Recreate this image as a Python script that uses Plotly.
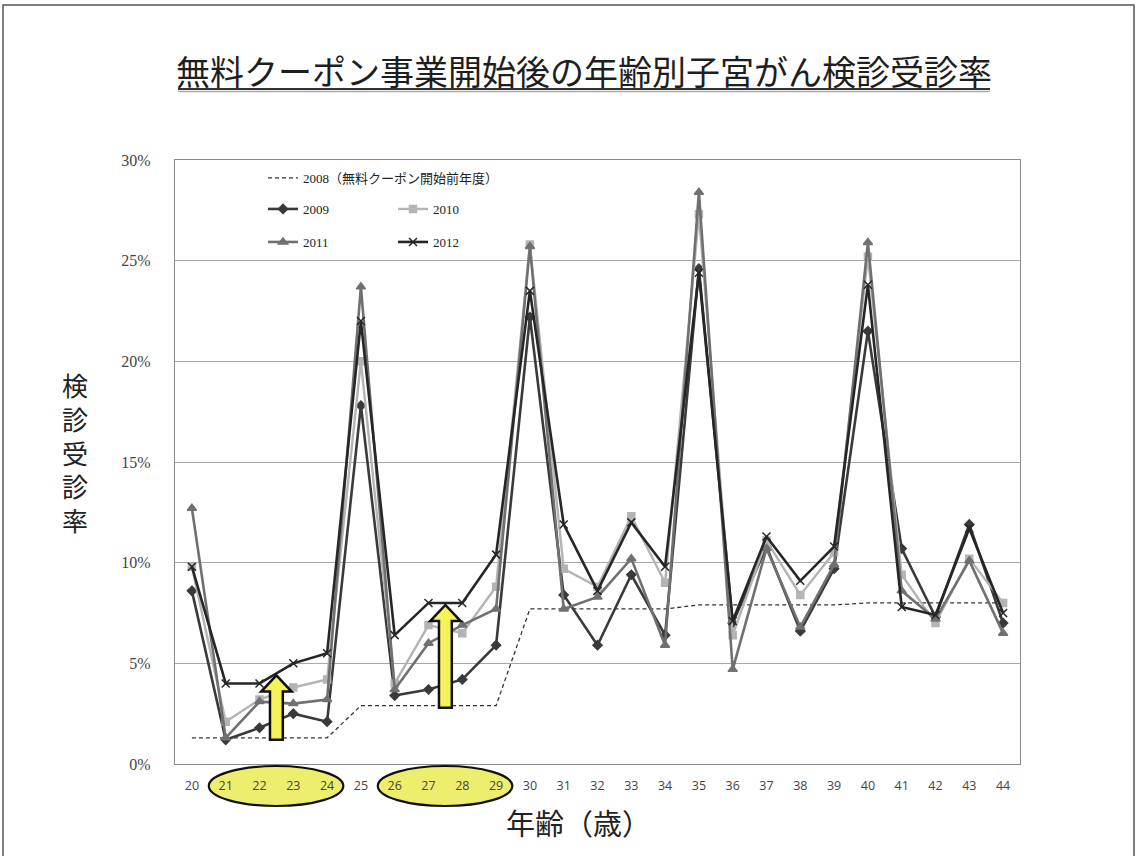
import plotly.graph_objects as go

# ---------------- data ----------------
ages = list(range(20, 45))
age_labels = [str(a) for a in ages]

rate_2008 = [1.3, 1.3, 1.3, 1.3, 1.3,
             2.9, 2.9, 2.9, 2.9, 2.9,
             7.7, 7.7, 7.7, 7.7, 7.7,
             7.9, 7.9, 7.9, 7.9, 7.9,
             8.0, 8.0, 8.0, 8.0, 8.0]
rate_2009 = [8.6, 1.2, 1.8, 2.5, 2.1, 17.8, 3.4, 3.7, 4.2, 5.9, 22.2, 8.4, 5.9,
             9.4, 6.4, 24.6, 7.0, 10.8, 6.6, 9.7, 21.5, 10.7, 7.3, 11.9, 7.0]
rate_2010 = [9.8, 2.1, 3.2, 3.8, 4.2, 20.0, 4.0, 6.9, 6.5, 8.8, 25.8, 9.7, 8.8,
             12.3, 9.0, 27.3, 6.4, 11.1, 8.4, 10.5, 25.2, 9.4, 7.0, 10.2, 8.0]
rate_2011 = [12.7, 1.3, 3.1, 3.0, 3.2, 23.7, 3.7, 6.0, 6.9, 7.7, 25.7, 7.7, 8.3,
             10.2, 5.9, 28.4, 4.7, 10.7, 6.8, 9.9, 25.9, 8.6, 7.2, 10.1, 6.5]
rate_2012 = [9.8, 4.0, 4.0, 5.0, 5.5, 22.0, 6.4, 8.0, 8.0, 10.4, 23.5, 11.9, 8.6,
             12.0, 9.8, 24.4, 7.1, 11.3, 9.1, 10.8, 23.8, 7.8, 7.4, 11.7, 7.5]

y_ticks = [0, 5, 10, 15, 20, 25, 30]
y_tick_labels = [f"{v}%" for v in y_ticks]
highlight_groups = [[21, 22, 23, 24], [26, 27, 28, 29]]

title_text = "無料クーポン事業開始後の年齢別子宮がん検診受診率"
ytitle_text = "検診受診率"
xtitle_text = "年齢（歳）"

# ---------------- layout geometry ----------------
W, H = 1137, 856
L, R, T, B = 175, 117, 160, 92
PW, PH = W - L - R, H - T - B


def px_x(px):
    return (px - L) / PW


def px_y(py):
    return (H - B - py) / PH


fig = go.Figure()

serif = "Liberation Serif, Noto Sans CJK JP"
cjk = "Noto Sans CJK JP"

# 2008 dashed
fig.add_trace(go.Scatter(
    x=ages, y=rate_2008, mode="lines", name="2008（無料クーポン開始前年度）",
    line=dict(color="#333333", width=1.3, dash="4px,3px"),
    legend="legend"))

series = [
    ("2009", rate_2009, "#3a3a3a", "diamond", 7, 2.6, "legend2"),
    ("2010", rate_2010, "#b4b4b4", "square", 7, 2.4, "legend3"),
    ("2011", rate_2011, "#707070", "triangle-up", 8, 2.6, "legend4"),
    ("2012", rate_2012, "#262626", "x-thin", 8, 2.6, "legend5"),
]
for name, vals, col, sym, ms, lw, lg in series:
    fig.add_trace(go.Scatter(
        x=ages, y=vals, mode="lines+markers", name=name,
        line=dict(color=col, width=lw),
        marker=dict(symbol=sym, size=ms, color=col,
                    line=dict(color=col, width=1.5)),
        legend=lg))

shapes = []
# outer frame
shapes.append(dict(type="rect", xref="paper", yref="paper",
                   x0=px_x(3), x1=px_x(1134), y0=px_y(900), y1=px_y(5),
                   line=dict(color="#555555", width=1.5), layer="below"))
# title underline
shapes.append(dict(type="line", xref="paper", yref="paper",
                   x0=px_x(178), x1=px_x(990), y0=px_y(89), y1=px_y(89),
                   line=dict(color="#333333", width=2)))
shapes.append(dict(type="line", xref="paper", yref="paper",
                   x0=px_x(178), x1=px_x(990), y0=px_y(91.5), y1=px_y(91.5),
                   line=dict(color="#aaaaaa", width=1.5)))

# yellow ellipses around highlighted tick labels
for grp in highlight_groups:
    shapes.append(dict(type="circle", xref="x", yref="paper",
                       x0=grp[0] - 0.5, x1=grp[-1] + 0.48,
                       y0=px_y(806), y1=px_y(766),
                       fillcolor="#eeee6e", line=dict(color="#111111", width=2.2),
                       layer="below"))

# yellow arrows: from 2008 level to 2012 level, between the middle ages of each group
arrow_half_shaft = 0.19
arrow_half_head = 0.45
head_h = 0.8
for grp in highlight_groups:
    i0 = ages.index(grp[1])
    i1 = ages.index(grp[2])
    xc = (grp[1] + grp[2]) / 2
    base = rate_2008[i0] - 0.1
    tip = (rate_2012[i0] + rate_2012[i1]) / 2 - 0.1
    hb = tip - head_h
    path = (f"M {xc - arrow_half_shaft} {base} L {xc - arrow_half_shaft} {hb} "
            f"L {xc - arrow_half_head} {hb} L {xc} {tip} L {xc + arrow_half_head} {hb} "
            f"L {xc + arrow_half_shaft} {hb} L {xc + arrow_half_shaft} {base} Z")
    shapes.append(dict(type="path", xref="x", yref="y", path=path,
                       fillcolor="#f4f45a", line=dict(color="#111111", width=2.5),
                       layer="above"))

annotations = [
    dict(text=title_text, xref="paper", yref="paper", x=px_x(584), y=px_y(70),
         showarrow=False, xanchor="center", yanchor="middle",
         font=dict(family=cjk, size=34, color="#1e1e1e")),
    dict(text=xtitle_text, xref="paper", yref="paper", x=px_x(578), y=px_y(822),
         showarrow=False, xanchor="center", yanchor="middle",
         font=dict(family=cjk, size=29, color="#222222")),
    dict(text="<br>".join(list(ytitle_text)), xref="paper", yref="paper",
         x=px_x(75), y=px_y(452), showarrow=False, xanchor="center", yanchor="middle",
         font=dict(family=cjk, size=26, color="#222222")),
]

leg_common = dict(bgcolor="rgba(0,0,0,0)", borderwidth=0,
                  font=dict(family=serif, size=13, color="#222222"),
                  xanchor="left", yanchor="middle", orientation="v")

fig.update_layout(
    width=W, height=H,
    margin=dict(l=L, r=R, t=T, b=B),
    paper_bgcolor="white", plot_bgcolor="white",
    showlegend=True,
    legend=dict(x=px_x(263), y=px_y(178), **leg_common),
    legend2=dict(x=px_x(263), y=px_y(209), **leg_common),
    legend3=dict(x=px_x(393), y=px_y(209), **leg_common),
    legend4=dict(x=px_x(263), y=px_y(242), **leg_common),
    legend5=dict(x=px_x(393), y=px_y(242), **leg_common),
    xaxis=dict(
        tickmode="array", tickvals=ages, ticktext=age_labels,
        range=[19.5, 44.5], showgrid=False, zeroline=False,
        showline=True, linecolor="#8a8a8a", linewidth=1.2, mirror=True,
        ticks="", ticklabelstandoff=10,
        tickfont=dict(family="Open Sans, Lato, sans-serif", size=12.5, color="#444444"),
    ),
    yaxis=dict(
        tickmode="array", tickvals=y_ticks, ticktext=y_tick_labels,
        range=[0, 30], showgrid=True, gridcolor="#a8a8a8", gridwidth=1.2,
        zeroline=False, showline=True, linecolor="#8a8a8a", linewidth=1.2, mirror=True,
        ticks="", ticklabelstandoff=20,
        tickfont=dict(family="Liberation Serif, serif", size=16, color="#444444"),
    ),
    shapes=shapes,
    annotations=annotations,
)

fig.write_html("out.html")
